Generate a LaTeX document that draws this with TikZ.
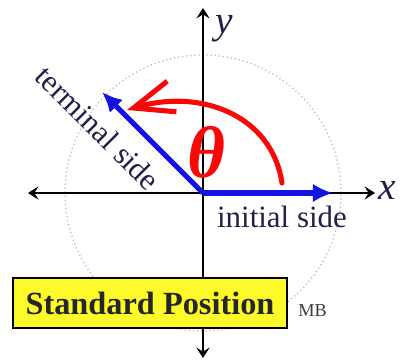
\documentclass[tikz,border=0pt]{standalone}
\usepackage{fontspec}
\setmainfont{Liberation Serif}
\usetikzlibrary{positioning,arrows.meta}
\definecolor{azul}{RGB}{18,18,225}
\definecolor{rojo}{RGB}{250,8,8}
\definecolor{tinta}{RGB}{32,32,72}
\definecolor{amarillo}{RGB}{252,250,40}
\definecolor{gristexto}{RGB}{60,60,60}

\begin{document}
\begin{tikzpicture}[x=0.025cm, y=0.025cm,
  eje/.style={{Stealth[length=2.6mm,width=3.3mm,inset=1mm]}-{Stealth[length=2.6mm,width=3.3mm,inset=1mm]},
    line width=1.3pt, black},
  lado/.style={-{Latex[length=5mm,width=4.6mm]}, line width=3.6pt, color=azul},
  giro/.style={-{Straight Barb[length=10mm,width=8mm]}, line width=3.6pt, color=rojo,
    line cap=round},
  etiqueta/.style={font=\fontsize{22}{24}\selectfont, text=tinta, inner sep=0pt},
  nombreje/.style={font=\fontsize{28}{28}\selectfont\itshape, text=tinta, inner sep=0pt},
  titulo/.style={rectangle, draw=black, line width=1.4pt, fill=amarillo,
    minimum width=6.85cm, minimum height=1.25cm, text=black!85,
    font=\fontsize{23}{24}\selectfont\bfseries}
]
\useasboundingbox (0,0) rectangle (409,360);
\coordinate (O) at (203,167);
% ejes y circulo
\draw[gray!55, dotted, line width=0.9pt] (O) circle (138);
\coordinate (xizq) at (28,167);
\coordinate (xder) at (375,167);
\coordinate (yarr) at (203,352);
\coordinate (yab) at (203,2);
\draw[eje] (xizq) -- (xder);
\draw[eje] (yab) -- (yarr);
\node[nombreje] (lx) at (387,170) {x};
\node[nombreje] (ly) at (224,331) {y};
% lados del angulo
\coordinate (fini) at (333,167);
\coordinate (fter) at (102,268);
\draw[lado] (O) -- (fini);
\draw[lado] (O) -- (fter);
\node[etiqueta] (ini) at (282,143) {initial side};
\node[etiqueta, rotate=-45] (ter) at (98,232) {terminal side};
% angulo
\coordinate (a0) at (282,177);
\coordinate (a1) at (127,250);
\draw[giro] (a0) .. controls (272,245) and (200,272) .. (a1);
\node[text=rojo, font=\fontsize{52}{52}\selectfont\bfseries\itshape, inner sep=0pt] (th) at (206,208) {θ};
% recuadro
\node[titulo] (caja) at (150,57) {Standard Position};
\node[font=\fontsize{13}{13}\selectfont, text=gristexto, inner sep=0pt,
  right=0.25cm of caja.south east, anchor=south west, yshift=0.3cm] (mb) {MB};
\end{tikzpicture}
\end{document}
